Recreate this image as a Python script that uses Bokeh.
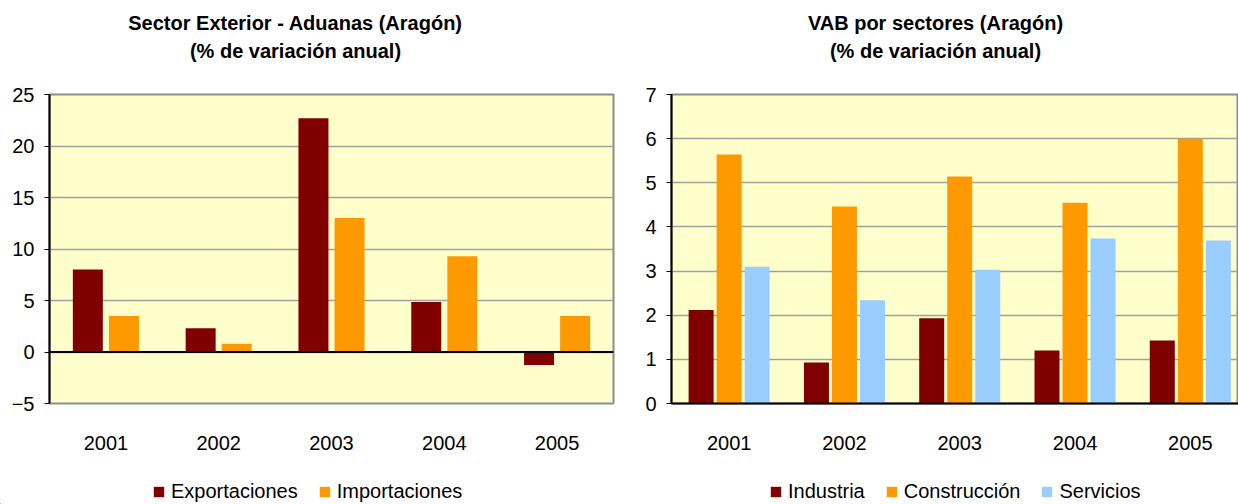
import numpy as np
from bokeh.plotting import figure
from bokeh.models import (Range1d, FixedTicker, SingleIntervalTicker, Span,
                          Legend, LegendItem)
from bokeh.layouts import row, column
from bokeh.core.properties import value
from bokeh.embed import file_html
from bokeh.resources import INLINE

# ---------------- data ----------------
years = ["2001", "2002", "2003", "2004", "2005"]
exportaciones = [8.0, 2.3, 22.7, 4.85, -1.25]
importaciones = [3.5, 0.8, 13.0, 9.3, 3.5]
industria = [2.12, 0.93, 1.93, 1.2, 1.43]
construccion = [5.64, 4.46, 5.14, 4.55, 6.0]
servicios = [3.1, 2.34, 3.03, 3.74, 3.69]
left_title = ["Sector Exterior - Aduanas (Aragón)", "(% de variación anual)"]
right_title = ["VAB por sectores (Aragón)", "(% de variación anual)"]
left_names = ["Exportaciones", "Importaciones"]
right_names = ["Industria", "Construcción", "Servicios"]

MAROON = "#800000"
ORANGE = "#FF9900"
BLUE = "#99CCFF"
FONT = "Liberation Sans"

HEADER_H = 70
FOOTER_H = 41
W = 1238

# ---------------- header (chart titles) ----------------
header = figure(width=W, height=HEADER_H, x_range=Range1d(0, W),
                y_range=Range1d(0, HEADER_H), x_axis_type=None, y_axis_type=None,
                min_border=0, output_backend="svg", toolbar_location=None)
header.outline_line_color = None
header.background_fill_color = "white"
header.border_fill_color = "white"
title_cx = [295, 295, 935, 935]
title_cy = [HEADER_H - 22, HEADER_H - 50, HEADER_H - 22, HEADER_H - 50]
header.text(x=title_cx, y=title_cy, text=left_title + right_title,
            text_align="center", text_baseline="middle",
            text_font=value(FONT), text_font_style="bold",
            text_font_size="20px", text_color="black")


def base_fig(frame_w, bl, br, x_end, y0, y1, step):
    p = figure(frame_width=frame_w, frame_height=309,
               min_border_left=bl, min_border_right=br,
               min_border_top=24, min_border_bottom=60,
               x_range=Range1d(0, x_end), y_range=Range1d(y0, y1),
               output_backend="svg", toolbar_location=None)
    p.background_fill_color = "#FFFFCC"
    p.border_fill_color = "white"
    p.outline_line_color = "#8C8C8C"
    p.outline_line_width = 2
    p.xgrid.grid_line_color = None
    p.ygrid.grid_line_color = "#A0A0A0"
    p.ygrid.grid_line_width = 1.5
    p.yaxis.ticker = SingleIntervalTicker(interval=step)
    p.yaxis.axis_line_color = "black"
    p.yaxis.axis_line_width = 2
    p.yaxis.major_tick_out = 5
    p.yaxis.major_tick_in = 0
    p.yaxis.major_tick_line_color = "black"
    p.yaxis.minor_tick_line_color = None
    p.yaxis.major_label_standoff = 10
    xs = np.arange(len(years)) + 0.5
    p.xaxis.ticker = FixedTicker(ticks=list(xs))
    p.xaxis.major_label_overrides = {float(x): y for x, y in zip(xs, years)}
    p.xaxis.major_tick_line_color = None
    p.xaxis.minor_tick_line_color = None
    p.xaxis.major_label_standoff = 26
    for ax in (p.xaxis[0], p.yaxis[0]):
        ax.major_label_text_font = FONT
        ax.major_label_text_font_size = "20px"
        ax.major_label_text_color = "black"
    return p, xs


# ---------------- left chart ----------------
p1, xs1 = base_fig(564, 49, 7, 5, -5, 25, 5)
p1.xaxis.axis_line_color = None
p1.vbar(x=xs1 - 0.16, top=exportaciones, bottom=0, width=0.266,
        fill_color=MAROON, line_color=None)
p1.vbar(x=xs1 + 0.16, top=importaciones, bottom=0, width=0.266,
        fill_color=ORANGE, line_color=None)
p1.add_layout(Span(location=0, dimension="width", line_color="black", line_width=2))

# ---------------- right chart ----------------
p2, xs2 = base_fig(567, 51, 0, 4.918, 0, 7, 1)
p2.xaxis.axis_line_color = "black"
p2.xaxis.axis_line_width = 2
p2.vbar(x=xs2 - 0.243, top=industria, bottom=0, width=0.217,
        fill_color=MAROON, line_color=None)
p2.vbar(x=xs2, top=construccion, bottom=0, width=0.217,
        fill_color=ORANGE, line_color=None)
p2.vbar(x=xs2 + 0.243, top=servicios, bottom=0, width=0.217,
        fill_color=BLUE, line_color=None)

# ---------------- footer (legends) ----------------
footer = figure(width=W, height=FOOTER_H, x_range=Range1d(0, W),
                y_range=Range1d(0, FOOTER_H), x_axis_type=None, y_axis_type=None,
                min_border=0, output_backend="svg", toolbar_location=None)
footer.outline_line_color = None
footer.background_fill_color = "white"
footer.border_fill_color = "white"


def legend_block(names, colors, vx):
    items = []
    for name, col in zip(names, colors):
        # legend-swatch renderer: one entry placed outside the visible range
        r = footer.vbar(x=[-W], top=[1], bottom=0, width=1,
                        fill_color=col, line_color=None)
        items.append(LegendItem(label=name, renderers=[r]))
    lg = Legend(items=items, orientation="horizontal", location=(vx, 1),
                padding=0, margin=0, spacing=20, label_standoff=6,
                glyph_width=13, glyph_height=13, label_height=20,
                label_text_font=FONT, label_text_font_size="20px",
                label_text_color="black",
                border_line_alpha=0, background_fill_alpha=0)
    footer.add_layout(lg)


legend_block(left_names, [MAROON, ORANGE], 152)
legend_block(right_names, [MAROON, ORANGE, BLUE], 769)

layout = column(header, row(p1, p2, spacing=0), footer, spacing=0)
open("out.html", "w").write(file_html(layout, INLINE))
